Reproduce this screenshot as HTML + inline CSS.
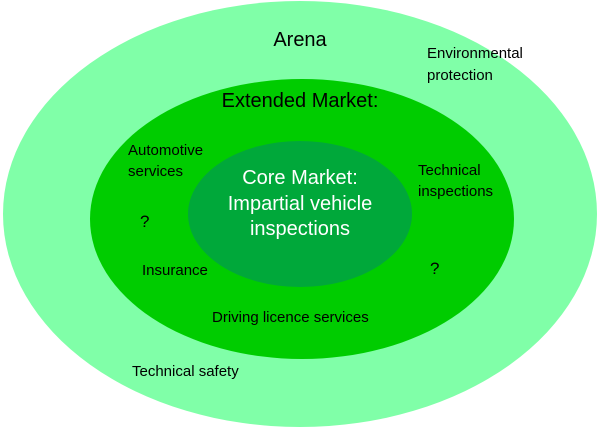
<!DOCTYPE html><html><head><style>body{margin:0;background:#fff}svg text{font-family:"Liberation Sans",sans-serif}</style></head><body>
<svg width="600" height="432" xmlns="http://www.w3.org/2000/svg">
<ellipse cx="300" cy="214" rx="297" ry="213" fill="#80ffa8"/>
<ellipse cx="302" cy="219" rx="212" ry="140" fill="#00cc00"/>
<ellipse cx="300" cy="214" rx="112" ry="73" fill="#00a83a"/>
<g font-size="15" fill="#000">
<text x="300" y="46" font-size="20" text-anchor="middle">Arena</text>
<text x="427" y="58">Environmental</text>
<text x="427" y="80">protection</text>
<text x="300" y="107" font-size="20" text-anchor="middle">Extended Market:</text>
<text x="128" y="155">Automotive</text>
<text x="128" y="176">services</text>
<text x="418" y="175">Technical</text>
<text x="418" y="196">inspections</text>
<text x="140" y="227" font-size="17">?</text>
<text x="430" y="274" font-size="17">?</text>
<text x="142" y="275">Insurance</text>
<text x="212" y="322">Driving licence services</text>
<text x="132" y="376">Technical safety</text>
</g>
<g font-size="20" fill="#fff" text-anchor="middle">
<text x="300" y="184">Core Market:</text>
<text x="300" y="210">Impartial vehicle</text>
<text x="300" y="235">inspections</text>
</g>
</svg></body></html>
